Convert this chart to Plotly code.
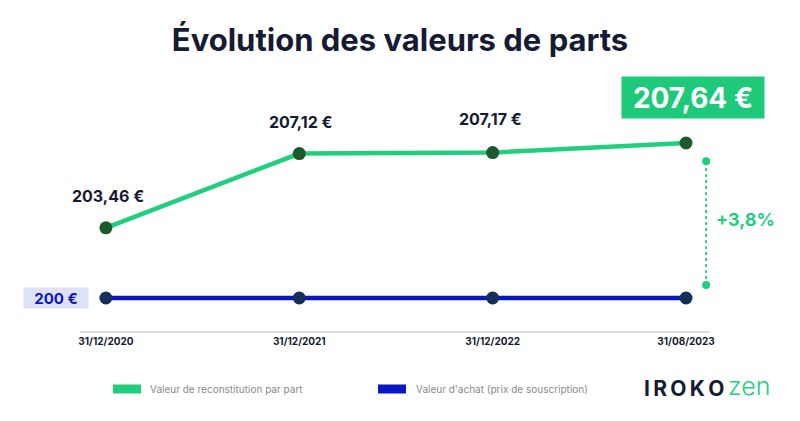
import plotly.graph_objects as go

# ---- data ----
dates = ["31/12/2020", "31/12/2021", "31/12/2022", "31/08/2023"]
reconstitution = [203.46, 207.12, 207.17, 207.64]
achat = [200, 200, 200, 200]
series_names = ["Valeur de reconstitution par part", "Valeur d'achat (prix de souscription)"]
title_text = "Évolution des valeurs de parts"

GREEN = "#20cf7e"
GREEN_BOX = "#1ec97a"
DARK_GREEN = "#1b5a2c"
BLUE = "#0b16c4"
NAVY_DOT = "#12305a"
DARK = "#151b33"
FONT = "Inter"

def fmt(v):
    return f"{v:.2f}".replace(".", ",") + " €"

# layout geometry (pixels)
W, H = 800, 421
L, R, T, B = 80, 90, 100, 90
PW, PH = W - L - R, H - T - B

def px(x):
    return (x - L) / PW

def py(y):
    return (H - B - y) / PH

fig = go.Figure()
x_idx = list(range(len(dates)))

fig.add_trace(go.Scatter(
    x=x_idx, y=achat, mode="lines+markers", name=series_names[1],
    line=dict(color=BLUE, width=4.5),
    marker=dict(size=13, color=NAVY_DOT), showlegend=False, cliponaxis=False))
fig.add_trace(go.Scatter(
    x=x_idx, y=reconstitution, mode="lines+markers", name=series_names[0],
    line=dict(color=GREEN, width=4.5),
    marker=dict(size=13, color=DARK_GREEN), showlegend=False, cliponaxis=False))

annotations = []
shapes = []

# data labels
shifts = [(2, 32), (2, 32), (-2, 34)]
for i, (dx, dy) in enumerate(shifts):
    annotations.append(dict(
        x=x_idx[i], y=reconstitution[i], xref="x", yref="y",
        text=f"<b>{fmt(reconstitution[i])}</b>", showarrow=False,
        xshift=dx, yshift=dy,
        font=dict(family=FONT, size=16, color=DARK, weight=800)))

# last value box
annotations.append(dict(
    x=x_idx[-1], y=reconstitution[-1], xref="x", yref="y",
    text=f"<b>{fmt(reconstitution[-1])}</b>", showarrow=False,
    xshift=7, yshift=46, bgcolor=GREEN_BOX, borderpad=4,
    width=134, height=33,
    font=dict(family=FONT, size=28, color="white", weight=800)))

# base value box
annotations.append(dict(
    x=x_idx[0], y=achat[0], xref="x", yref="y",
    text=f"<b>{achat[0]:.0f} €</b>", showarrow=False,
    xshift=-50, yshift=0, bgcolor="#dfe1f7", borderpad=3,
    width=58, height=14,
    font=dict(family=FONT, size=15, color=BLUE, weight=800)))

# growth indicator
xv = x_idx[-1] + 0.104
y_top = reconstitution[-1] - 0.9
y_bot = achat[-1] + 0.64
shapes.append(dict(type="line", xref="x", yref="y", x0=xv, x1=xv, y0=y_bot, y1=y_top,
                   line=dict(color=GREEN, width=1.8, dash="dot"), layer="above"))
for yy in (y_bot, y_top):
    shapes.append(dict(type="circle", xref="x", yref="y", xsizemode="pixel", ysizemode="pixel",
                       xanchor=xv, yanchor=yy, x0=-4, x1=4, y0=-4, y1=4,
                       fillcolor=GREEN, line=dict(width=0)))
pct = (reconstitution[-1] / achat[-1] - 1) * 100
annotations.append(dict(
    x=xv, y=(y_top + y_bot) / 2, xref="x", yref="y",
    text=f"<b>+{pct:.1f}%".replace(".", ",") + "</b>", showarrow=False,
    xanchor="left", xshift=8, yshift=4,
    font=dict(family=FONT, size=18, color=GREEN, weight=800)))

# custom legend
leg = [(113, GREEN, series_names[0], 148), (378, BLUE, series_names[1], 414)]
for x0, col, name, tx in leg:
    shapes.append(dict(type="rect", xref="paper", yref="paper",
                       x0=px(x0), x1=px(x0 + 28), y0=py(393.5), y1=py(384.5),
                       fillcolor=col, line=dict(width=0)))
    annotations.append(dict(x=px(tx), y=py(389), xref="paper", yref="paper",
                            text=name, showarrow=False, xanchor="left", yanchor="middle",
                            font=dict(family=FONT, size=10, color="#8a8a8a")))

# logo
annotations.append(dict(x=px(642), y=py(388), xref="paper", yref="paper",
                        text="<b>I\u2009R\u2009O\u2009K\u2009O</b>", showarrow=False,
                        xanchor="left", yanchor="middle",
                        font=dict(family=FONT, size=21, color=DARK, weight=900)))
annotations.append(dict(x=px(726), y=py(386), xref="paper", yref="paper",
                        text="zen", showarrow=False, xanchor="left", yanchor="middle",
                        font=dict(family=FONT, size=25, color=GREEN, weight=300)))

fig.update_layout(
    width=W, height=H,
    margin=dict(l=L, r=R, t=T, b=B),
    paper_bgcolor="white", plot_bgcolor="white",
    title=dict(text=f"<b>{title_text}</b>", x=0.5, xanchor="center", y=1 - 40 / H, yanchor="middle",
               font=dict(family=FONT, size=31, color=DARK, weight=800)),
    xaxis=dict(tickmode="array", tickvals=x_idx, ticktext=dates,
               range=[-0.134, 3.124], showgrid=False, zeroline=False,
               showline=True, linecolor="#dcdcdc", linewidth=1.5,
               ticks="", ticklen=0,
               tickfont=dict(family=FONT, size=10, color=DARK, weight=700)),
    yaxis=dict(range=[198.374, 209.76], showgrid=False, zeroline=False,
               showticklabels=False, showline=False),
    annotations=annotations, shapes=shapes,
    showlegend=False,
)

fig.write_html("out.html", config={"displayModeBar": False},
               post_script="document.body.style.margin='0';document.body.style.overflow='hidden';")
